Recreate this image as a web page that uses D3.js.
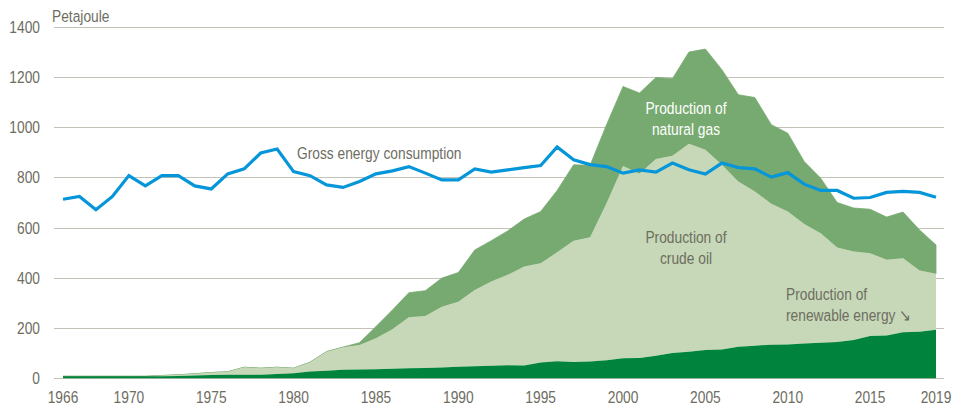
<!DOCTYPE html>
<html>
<head>
<meta charset="utf-8">
<script src="https://cdn.jsdelivr.net/npm/d3@7"></script>
<style>
  body { margin: 0; background: #fff; }
  svg { display: block; font-family: "Liberation Sans", Arial, sans-serif; }
</style>
</head>
<body>
<svg width="954" height="405"></svg>
<script>
// Years on the x axis
const years = d3.range(1966, 2020);

// Petajoule
const renewable = [8, 8, 8, 8, 8, 8, 8, 9, 11, 13,
  14, 14, 14, 17, 20, 27, 30, 34, 35, 36,
  38, 40, 41, 43, 46, 48, 50, 52, 51, 63,
  68, 65, 67, 72, 80, 81, 90, 101, 106, 113,
  115, 126, 130, 134, 135, 139, 142, 145, 153, 168,
  170, 183, 185, 193];

const crudeOil = [0, 0, 0, 0, 0, 0, 3, 5, 7, 10,
  12, 30, 26, 27, 20, 37, 76, 90, 98, 123,
  157, 203, 207, 242, 259, 304, 335, 360, 394, 395,
  434, 483, 495, 625, 765, 733, 783, 785, 828, 797,
  735, 658, 614, 561, 529, 475, 436, 376, 352, 330,
  302, 295, 244, 223];

const naturalGas = [0, 0, 0, 0, 0, 0, 0, 0, 0, 0,
  0, 0, 0, 0, 0, 0, 0, 0, 9, 47,
  77, 98, 101, 114, 116, 159, 163, 175, 189, 206,
  246, 302, 286, 313, 317, 322, 325, 307, 365, 401,
  379, 345, 374, 315, 312, 249, 219, 179, 173, 175,
  170, 184, 162, 115];

const grossConsumption = [713, 724, 671, 724, 807, 766, 807, 807, 766, 754,
  814, 834, 897, 913, 823, 807, 770, 760, 784, 814,
  826, 843, 817, 790, 790, 834, 821, 830, 839, 847,
  921, 870, 851, 843, 817, 830, 821, 857, 830, 813,
  857, 839, 834, 801, 819, 773, 748, 748, 717, 720,
  740, 744, 740, 721];

const yTicks = [0, 200, 400, 600, 800, 1000, 1200, 1400];
const xTicks = [1966, 1970, 1975, 1980, 1985, 1990, 1995, 2000, 2005, 2010, 2015, 2019];

const textGrey = "#6e6d62";
const gridGrey = "#c4c2b6";
const NARROW = 0.835; // no Arial Narrow here, so squeeze Liberation Sans

const svg = d3.select("svg");

const x = d3.scaleLinear().domain([1966, 2019]).range([63, 936]);
const y = d3.scaleLinear().domain([0, 1400]).range([378.3, 26.7]);

// narrow text helper
function narrowText(parent, tx, ty, str, anchor, color) {
    return parent.append("text")
        .attr("transform", "translate(" + tx + "," + ty + ") scale(" + NARROW + ",1)")
        .attr("text-anchor", anchor)
        .attr("fill", color)
        .style("font-size", "16.5px")
        .text(str);
}

// Gridlines
svg.append("g")
    .selectAll("line")
    .data(yTicks)
    .enter().append("line")
    .attr("x1", 54)
    .attr("x2", 944)
    .attr("y1", d => Math.round(y(d)) + 0.5)
    .attr("y2", d => Math.round(y(d)) + 0.5)
    .attr("stroke", gridGrey)
    .attr("stroke-width", d => d === 0 ? 1.2 : 1);

// Stacked areas
const table = years.map((yr, i) => ({
    year: yr, renewable: renewable[i], oil: crudeOil[i], gas: naturalGas[i]
}));
const stack = d3.stack().keys(["renewable", "oil", "gas"]);
const series = stack(table);
const colors = { renewable: "#00843d", oil: "#c6d8b7", gas: "#77aa70" };

const area = d3.area()
    .x(d => x(d.data.year))
    .y0(d => y(d[0]))
    .y1(d => y(d[1]));

svg.append("g")
    .selectAll("path")
    .data(series.slice().reverse())
    .enter().append("path")
    .attr("d", area)
    .attr("fill", d => colors[d.key])
    .attr("stroke", d => d.key === "gas" ? colors.gas : "none")
    .attr("stroke-width", 0.8);

// Gross energy consumption line
const line = d3.line()
    .x((d, i) => x(years[i]))
    .y(d => y(d));

svg.append("path")
    .datum(grossConsumption)
    .attr("d", line)
    .attr("fill", "none")
    .attr("stroke", "#0596d9")
    .attr("stroke-width", 3.2)
    .attr("stroke-linejoin", "miter");

// Y axis labels
const yLab = svg.append("g");
yTicks.forEach(d => narrowText(yLab, 40, y(d) + 6, d, "end", textGrey));

// X axis labels
const xLab = svg.append("g");
xTicks.forEach(d => narrowText(xLab, x(d), 402.5, d, "middle", textGrey));

// Unit
narrowText(svg, 52, 22, "Petajoule", "start", textGrey);

// Series labels
function label(lines, lx, ly, anchor, color) {
    lines.forEach((s, i) => narrowText(svg, lx, ly + i * 21, s, anchor, color));
}

label(["Gross energy consumption"], 297, 159, "start", textGrey);
label(["Production of", "natural gas"], 686, 114, "middle", "#ffffff");
label(["Production of", "crude oil"], 686, 243, "middle", textGrey);
label(["Production of", "renewable energy \u2198"], 786, 300, "start", textGrey);
</script>
</body>
</html>
